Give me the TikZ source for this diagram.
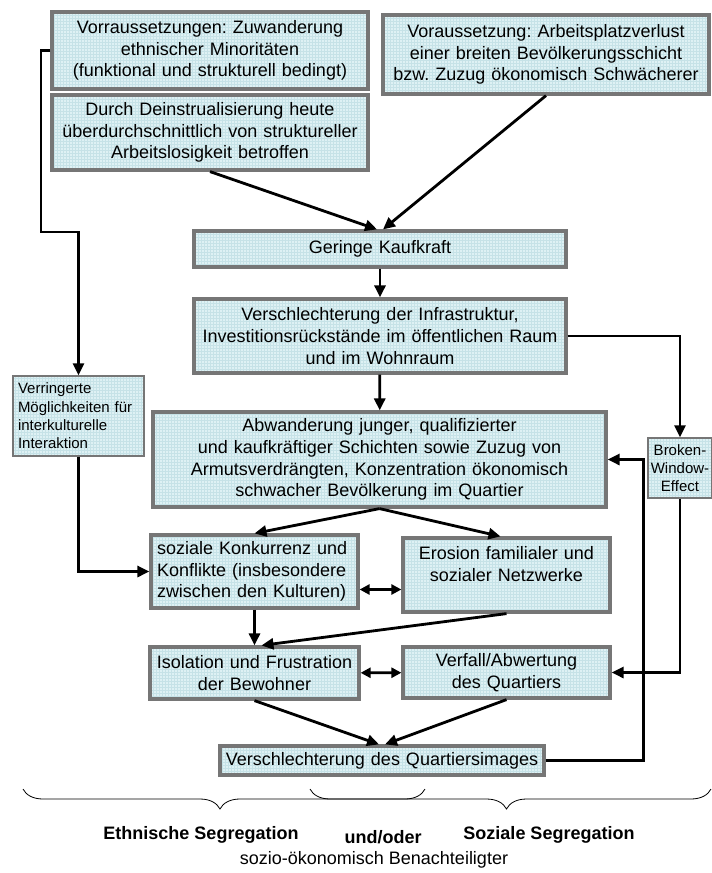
\documentclass[tikz,border=0pt]{standalone}
\usepackage{fontspec}
\setmainfont{Liberation Sans}
\frenchspacing
\usetikzlibrary{arrows.meta,decorations.pathreplacing,patterns}

\definecolor{kastenfill}{RGB}{222,241,244}
\definecolor{kastenrand}{RGB}{118,118,118}
\definecolor{rasterfarbe}{RGB}{198,226,231}

\tikzset{
  kasten/.style={draw=kastenrand, line width=3.2pt,
    preaction={fill=kastenfill},
    preaction={pattern=grid, pattern color=rasterfarbe},
    inner sep=0pt, align=center, font=\fontsize{18}{21.7}\selectfont},
  duenn/.style={kasten, line width=1.4pt, font=\fontsize{15}{18.3}\selectfont},
  pfeil/.style={line width=2.8pt, -{Triangle[length=12pt,width=11pt]}},
  dpfeil/.style={line width=2.8pt, {Triangle[length=10pt,width=10pt]}-{Triangle[length=10pt,width=10pt]}},
  klammer/.style={decorate, decoration={brace, mirror, amplitude=20pt, aspect=0.49}, line width=0.8pt},
}

\begin{document}
\begin{tikzpicture}[x=1pt,y=-1pt]
  \useasboundingbox (0,0) rectangle (712,873);

  % obere Voraussetzungen
  \node[kasten, minimum width=316pt, minimum height=77pt, text width=306pt] (voraus1) at (210,50.5)
    {Vorraussetzungen: Zuwanderung\\ethnischer Minoritäten\\(funktional und strukturell bedingt)};
  \node[kasten, minimum width=316pt, minimum height=75pt, text width=306pt] (deindus) at (210,132.5)
    {Durch Deinstrualisierung heute\\überdurchschnittlich von struktureller\\Arbeitslosigkeit betroffen};
  \node[kasten, minimum width=326pt, minimum height=79pt, text width=316pt] (voraus2) at (546,54.5)
    {Voraussetzung: Arbeitsplatzverlust\\einer breiten Bevölkerungsschicht\\bzw. Zuzug ökonomisch Schwächerer};

  % Hauptkette
  \node[kasten, minimum width=372pt, minimum height=36pt, text width=362pt] (kaufkraft) at (380,249)
    {Geringe Kaufkraft};
  \node[kasten, minimum width=372pt, minimum height=74pt, text width=362pt] (infra) at (380,336)
    {Verschlechterung der Infrastruktur,\\Investitionsrückstände im öffentlichen Raum\\und im Wohnraum};
  \node[duenn, minimum width=131pt, minimum height=80pt, text width=121pt, align=left] (verring) at (78.5,416)
    {Verringerte\\Möglichkeiten für\\interkulturelle\\Interaktion};
  \node[kasten, minimum width=453pt, minimum height=95pt, text width=443pt] (abwand) at (379.5,459.5)
    {Abwanderung junger, qualifizierter\\und kaufkräftiger Schichten sowie Zuzug von\\Armutsverdrängten, Konzentration ökonomisch\\schwacher Bevölkerung im Quartier};
  \node[duenn, minimum width=64pt, minimum height=60pt, text width=64pt] (broken) at (680,468)
    {Broken-\\Window-\\Effect};

  \node[kasten, minimum width=207pt, minimum height=73pt, text width=195pt, align=left] (konk) at (254.5,571.5)
    {soziale Konkurrenz und\\Konflikte (insbesondere\\zwischen den Kulturen)};
  \node[kasten, minimum width=207pt, minimum height=74pt, text width=197pt] (erosion) at (506.5,575)
    {Erosion familialer und\\sozialer Netzwerke\\\mbox{}};
  \node[kasten, minimum width=209pt, minimum height=52pt, text width=199pt] (isol) at (254.5,673)
    {Isolation und Frustration\\der Bewohner};
  \node[kasten, minimum width=207pt, minimum height=51pt, text width=197pt] (verfall) at (506.5,672.5)
    {Verfall/Abwertung\\des Quartiers};
  \node[kasten, minimum width=324pt, minimum height=29pt, text width=314pt] (image) at (382,760.5)
    {Verschlechterung des Quartiersimages};

  % Verbindungen
  \coordinate (knick) at (41,232);
  \draw[pfeil] (voraus1.west) -| (knick) -| (verring.north);
  \draw[pfeil] (deindus.south) -- ([xshift=-3pt]kaufkraft.north);
  \draw[pfeil] (voraus2.south) -- ([xshift=3pt]kaufkraft.north);
  \draw[pfeil] (kaufkraft) -- (infra);
  \draw[pfeil] (infra) -- (abwand);
  \draw[pfeil] (infra.east) -| (broken.north);
  \draw[pfeil] (broken.south) |- (verfall.east);
  \draw[pfeil] (verring.south) |- (konk.west);
  \draw[pfeil] (abwand.south) -- (konk.north);
  \draw[pfeil] (abwand.south) -- ([xshift=-6pt]erosion.north);
  \draw[pfeil] (konk) -- (isol);
  \draw[pfeil] (erosion.south) -- ([xshift=7pt]isol.north);
  \draw[dpfeil] ([yshift=-18pt]konk.east) -- ([yshift=-18pt]konk.east -| erosion.west);
  \draw[dpfeil] (isol) -- (verfall);
  \draw[pfeil] (isol.south) -- ([xshift=-3pt]image.north);
  \draw[pfeil] (verfall.south) -- ([xshift=3pt]image.north);
  \draw[pfeil] (image.east) -| ([xshift=36pt]abwand.east) -- (abwand.east);

  % Klammern und Beschriftung
  \draw[klammer] (23,789) -- (425,789);
  \draw[klammer] (310,789) -- (711,789);
  \node[font=\fontsize{18}{21}\selectfont\bfseries] (ethnisch) at (201,835) {Ethnische Segregation};
  \node[font=\fontsize{18}{21}\selectfont\bfseries] (undoder) at (383,837) {und/oder};
  \node[font=\fontsize{18}{21}\selectfont\bfseries] (sozial) at (549,835) {Soziale Segregation};
  \node[font=\fontsize{18}{21}\selectfont] (benacht) at (374,860) {sozio-ökonomisch Benachteiligter};
\end{tikzpicture}
\end{document}
